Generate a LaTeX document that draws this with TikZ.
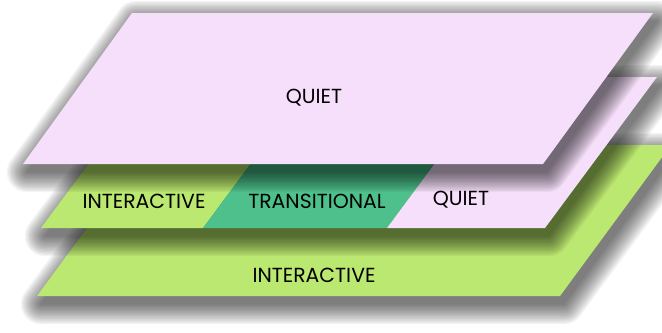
\documentclass[tikz,border=0pt]{standalone}
\usepackage{fontspec}
\setmainfont{Poppins}
\usepackage{xcolor}

\definecolor{quietpink}{RGB}{246,223,250}
\definecolor{activegreen}{RGB}{187,232,112}
\definecolor{transteal}{RGB}{78,192,139}

\tikzset{
    layer/.style={fill=#1, draw=none},
    tag/.style={font=\fontsize{11.6}{13}\selectfont, text=black, inner sep=0pt}
}

% soft shadow: stack of widening outlines, each one faint
\newcommand{\layershadow}[1]{%
    \foreach \w in {0.5,2,...,23} {
        \begin{scope}[transparency group, opacity=0.042, shift={(4,8)}]
            \path[fill=black, draw=black, line width=\w pt, line join=round] #1;
        \end{scope}
    }}

\begin{document}
\begin{tikzpicture}[x=0.02cm, y=-0.02cm]
    \useasboundingbox (0,0) rectangle (662,332);

    % bottom layer
    \layershadow{(37,296) -- (560,296) -- (671,145) -- (148,145) -- cycle}
    \path[layer=activegreen] (37,296) -- (560,296) -- (671,145) -- (148,145) -- cycle;
    \node[tag] (low) at (314,275) {INTERACTIVE};

    % middle layer, split in three zones
    \layershadow{(41,228) -- (545,228) -- (657,77) -- (153,77) -- cycle}
    \path[layer=activegreen] (41,228) -- (203,228) -- (315,77) -- (153,77) -- cycle;
    \path[layer=transteal] (203,228) -- (387,228) -- (499,77) -- (315,77) -- cycle;
    \path[layer=quietpink] (387,228) -- (545,228) -- (657,77) -- (499,77) -- cycle;
    \node[tag] (midA) at (144,201) {INTERACTIVE};
    \node[tag] (midB) at (317,201) {TRANSITIONAL};
    \node[tag] (midC) at (461,200) {QUIET};

    % top layer
    \layershadow{(23,164) -- (543,164) -- (653,13) -- (132,13) -- cycle}
    \path[layer=quietpink] (23,164) -- (543,164) -- (653,13) -- (132,13) -- cycle;
    \node[tag] (high) at (314,98) {QUIET};
\end{tikzpicture}
\end{document}
